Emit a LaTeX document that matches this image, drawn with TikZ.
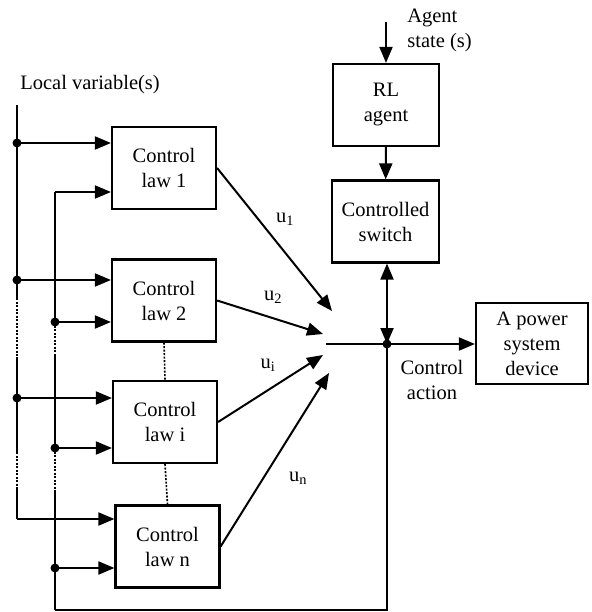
\documentclass[tikz,border=0pt]{standalone}
\usepackage{fontspec}
\setmainfont{Liberation Serif}
\newfontfamily\timesfont{Liberation Serif}
\usetikzlibrary{arrows.meta}

\begin{document}
\begin{tikzpicture}[x=1pt,y=-1pt,
          line width=2pt,
          every node/.style={font=\timesfont\fontsize{20.5}{25}\selectfont},
          block/.style={draw,line width=2.2pt,align=center,inner sep=0pt,
              minimum width=104pt,minimum height=82pt},
          arr/.style={-{Triangle[length=16pt,width=13pt]}},
          twoway/.style={{Triangle[length=16pt,width=13pt]}-{Triangle[length=16pt,width=13pt]}},
          gap/.style={line width=1.6pt,dash pattern=on 2pt off 1.5pt},
          tap/.style={circle,fill,inner sep=0pt,minimum size=9pt}]
        \useasboundingbox (0,0) rectangle (591,612);
        % control laws
        \node[block] (law1) at (164,168) {Control\\law 1};
        \node[block] (law2) at (164,300.5) {Control\\law 2};
        \node[block] (lawi) at (165,422) {Control\\law i};
        \node[block] (lawn) at (167.5,546.5) {Control\\law n};
        \node[block,minimum width=106pt] (agent) at (386,105) {RL\\agent};
        \node[block,minimum width=107pt] (switch) at (385.5,221.5) {Controlled\\switch};
        \node[block,minimum width=112pt,minimum height=81pt] (device) at (532,343.5) {A power\\system\\device};
        % texts
        \node[align=left,anchor=west] (state) at (403,30) {Agent\\state (s)};
        \node (local) at (90,85) {Local variable(s)};
        \node[align=center] (action) at (432,380) {Control\\action};
        % outer bus
        \coordinate (otop) at (17,105);
        \node[tap] (o1) at (17,143) {};
        \node[tap] (o2) at (17,280) {};
        \node[tap] (o3) at (17,398) {};
        \coordinate (o4) at (17,519);
        \draw (otop) -- (17,298);
        \draw[gap] (17,298) -- (17,357);
        \draw (17,357) -- (17,452);
        \draw[gap] (17,452) -- (17,488);
        \draw (17,488) -- (o4);
        % inner bus
        \coordinate (i1) at (55,192);
        \node[tap] (i2) at (55,322) {};
        \node[tap] (i3) at (55,448) {};
        \node[tap] (i4) at (55,568) {};
        \coordinate (ibot) at (55,610);
        \draw (i1) -- (55,322);
        \draw[gap] (55,322) -- (55,355);
        \draw (55,355) -- (55,448);
        \draw[gap] (55,448) -- (55,490);
        \draw (55,490) -- (ibot);
        % inputs
        \foreach \t/\b in {o1/law1,i1/law1,o2/law2,i2/law2,o3/lawi,i3/lawi,o4/lawn,i4/lawn}
        \draw[arr] (\t.center) -- (\t -| \b.west);
        % dots between laws
        \draw[gap] (law2.south) -- (lawi.north);
        \draw[gap] (lawi.south) -- (lawn.north);
        % outputs
        \coordinate (t1) at (332,311);
        \coordinate (t2) at (323,334);
        \coordinate (ti) at (323,355);
        \coordinate (tn) at (329,373);
        \draw[arr] (law1.east) -- (t1);
        \draw[arr] (law2.east) -- (t2);
        \draw[arr] (lawi.east) -- (ti);
        \draw[arr] (lawn.east) -- (tn);
        \node (lab1) at (285,219) {u\textsubscript{1}};
        \node (lab2) at (273,297) {u\textsubscript{2}};
        \node (labi) at (268,365) {u\textsubscript{i}};
        \node (labn) at (298,478) {u\textsubscript{n}};
        % switch and action
        \coordinate (sum) at (326,344);
        \node[tap] (junc) at (387,344) {};
        \coordinate (fb) at (387,610);
        \draw[arr] (state.west -| agent) ++(0,-8) coordinate (sin) -- (agent.north);
        \draw[arr] (agent) -- (switch);
        \draw[twoway] (switch.south -| junc) -- (junc.center);
        \draw[arr] (sum) -- (device.west |- sum);
        \draw (junc.center) -- (fb) -- (ibot);
      \end{tikzpicture}
\end{document}
